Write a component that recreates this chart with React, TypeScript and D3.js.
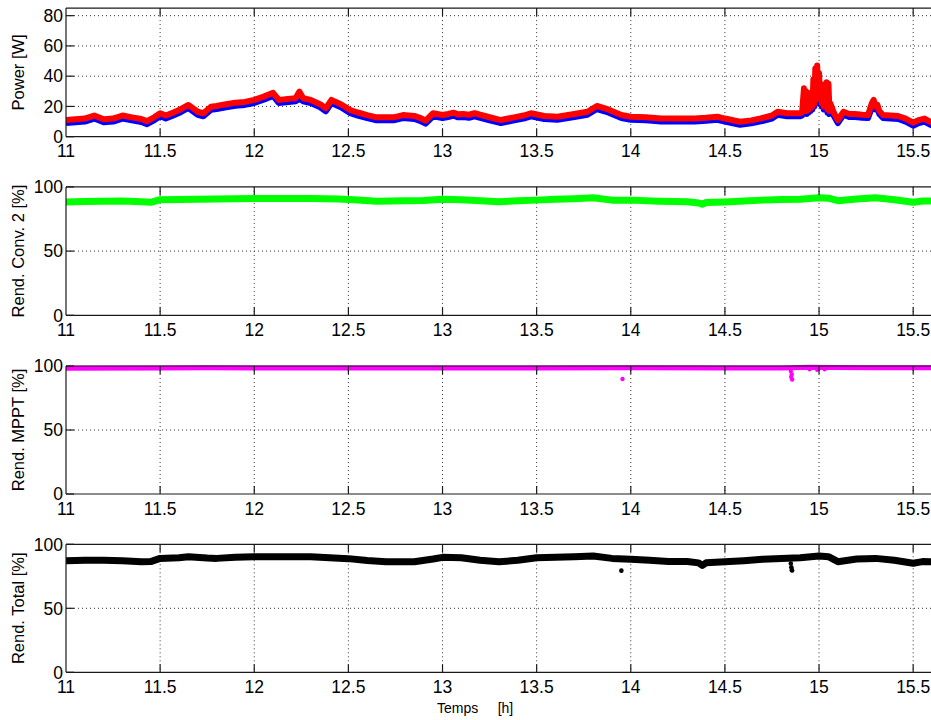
import React from 'react';
import * as d3 from 'd3';

// ---------- data ----------
const xTicks = [11, 11.5, 12, 12.5, 13, 13.5, 14, 14.5, 15, 15.5];
const xTickLabels = ['11', '11.5', '12', '12.5', '13', '13.5', '14', '14.5', '15', '15.5'];
const powerTicks = [0, 20, 40, 60, 80];
const rendTicks = [0, 50, 100];

const powerTime = [
  11.00, 11.05, 11.10, 11.15, 11.20, 11.25, 11.30, 11.35, 11.40, 11.43,
  11.47, 11.50, 11.53, 11.57, 11.60, 11.65, 11.70, 11.73, 11.77, 11.80,
  11.85, 11.90, 11.95, 12.00, 12.05, 12.10, 12.13, 12.18, 12.22, 12.24,
  12.26, 12.30, 12.35, 12.38, 12.41, 12.46, 12.51, 12.55, 12.60, 12.65,
  12.70, 12.74, 12.79, 12.85, 12.88, 12.91, 12.95, 13.00, 13.03, 13.06,
  13.08, 13.11, 13.14, 13.17, 13.24, 13.31, 13.38, 13.43, 13.47, 13.54,
  13.61, 13.70, 13.77, 13.82, 13.88, 13.95, 14.00, 14.08, 14.16, 14.25,
  14.34, 14.40, 14.46, 14.50, 14.58, 14.64, 14.69, 14.75, 14.78, 14.83,
  14.90, 14.91, 14.92, 14.925, 14.93, 14.935, 14.94, 14.945, 14.95, 14.955,
  14.96, 14.965, 14.97, 14.975, 14.98, 14.985, 14.99, 14.995, 15.00, 15.005,
  15.01, 15.015, 15.02, 15.025, 15.03, 15.04, 15.045, 15.05, 15.055, 15.06,
  15.08, 15.10, 15.13, 15.16, 15.19, 15.23, 15.26, 15.28, 15.29, 15.30,
  15.31, 15.32, 15.34, 15.38, 15.42, 15.46, 15.50, 15.53, 15.56, 15.60,
];
const powerIn = [
  11, 11.5, 12, 14, 11.5, 12, 14, 12.8, 11.7, 10.3,
  13, 15.5, 14, 16, 17.6, 21, 16.5, 15.5, 19.8, 20.3,
  21.5, 22.5, 23, 24.3, 26.5, 29, 24.3, 25, 25.5, 29.8,
  25.4, 24.3, 21.5, 18.8, 24.3, 21.5, 17.6, 16, 14.3, 12.8,
  12.8, 12.8, 14.3, 13.7, 12.5, 10.6, 15.5, 14.3, 15, 15.9,
  14.8, 15, 14.5, 15.5, 13.2, 11, 12.8, 14, 15.5, 13.7,
  13.2, 15, 16.5, 20.3, 18, 14.3, 13.2, 12.8, 12.1, 12.1,
  12, 12.5, 13.2, 12, 9.9, 10.8, 12.1, 14, 16.5, 15.5,
  15.5, 16, 32, 18, 30, 17, 29, 18, 27, 19,
  28, 20, 38, 22, 45, 25, 47, 28, 42, 25,
  35, 22, 30, 20, 24, 36, 18, 35, 17, 22,
  15.5, 11, 16.5, 15, 15, 14.5, 14.3, 22, 24.3, 20,
  21, 17, 14.3, 14, 13.7, 12, 9.3, 11, 12, 9.3,
];
const powerOut = [
  9, 9.5, 10, 12, 9.5, 10, 12, 10.8, 9.7, 8.3,
  11, 13.5, 12, 14, 15.6, 19, 14.5, 13.5, 17.8, 18.3,
  19.5, 20.5, 21, 22.3, 24.5, 27, 22.3, 23, 23.5, 25,
  23.4, 22.3, 19.5, 16.8, 22.3, 19.5, 15.6, 14, 12.3, 10.8,
  10.8, 10.8, 12.3, 11.7, 10.5, 8.6, 13.5, 12.3, 13, 13.9,
  12.8, 13, 12.5, 13.5, 11.2, 9, 10.8, 12, 13.5, 11.7,
  11.2, 13, 14.5, 18.3, 16, 12.3, 11.2, 10.8, 10.1, 10.1,
  10, 10.5, 11.2, 10, 7.9, 8.8, 10.1, 12, 14.5, 13.5,
  13.5, 14, 20, 16, 22, 15, 22, 16, 22, 17,
  24, 18, 30, 20, 36, 22, 38, 25, 36, 22,
  28, 20, 24, 18, 20, 28, 16, 26, 15, 19,
  13.5, 9, 14.5, 13, 13, 12.5, 12.3, 19, 21, 18,
  19, 15, 12.3, 12, 11.7, 10, 7.3, 9, 10, 7.3,
];

const conv2Time = [
  11.00, 11.10, 11.20, 11.30, 11.40, 11.45, 11.50, 11.60, 11.70, 11.80,
  11.90, 12.00, 12.15, 12.30, 12.45, 12.55, 12.65, 12.80, 12.90, 13.00,
  13.10, 13.20, 13.30, 13.40, 13.50, 13.60, 13.70, 13.80, 13.90, 14.00,
  14.15, 14.30, 14.36, 14.38, 14.40, 14.50, 14.60, 14.70, 14.80, 14.90,
  15.00, 15.05, 15.10, 15.20, 15.30, 15.40, 15.50, 15.55, 15.60,
];
const conv2Eff = [
  88.3, 88.6, 88.8, 89, 88.5, 88, 90, 90.2, 90.3, 90.5,
  90.8, 91, 91, 91, 90.6, 89.8, 88.9, 89.2, 89.5, 90.4,
  90, 89.3, 88.5, 89.2, 89.7, 90.3, 90.8, 91.5, 89.7, 89.7,
  88.9, 88.5, 87.5, 86.5, 87.8, 88.3, 89, 89.7, 90.2, 90.4,
  91.5, 91.2, 89.3, 90.5, 91.5, 90, 88, 89, 89,
];

const mpptTime = [11.00, 11.50, 11.75, 12.50, 13.00, 13.50, 14.00, 14.50, 14.80, 14.95, 15.05, 15.30, 15.60];
const mpptEff = [98.3, 98.4, 98.6, 98.4, 98.5, 98.5, 98.6, 98.5, 98.5, 99, 98.9, 98.6, 98.6];
const mpptOutlierTime = [13.956, 14.85, 14.852, 14.855, 14.857, 14.95, 14.99, 15.03];
const mpptOutlierEff = [89.8, 96, 91.5, 93.5, 89.5, 97.5, 97, 97.5];

const totalTime = [
  11.00, 11.10, 11.20, 11.30, 11.40, 11.45, 11.50, 11.60, 11.65, 11.75,
  11.80, 11.90, 12.00, 12.15, 12.30, 12.40, 12.50, 12.60, 12.70, 12.85,
  12.95, 13.00, 13.10, 13.20, 13.30, 13.40, 13.50, 13.60, 13.70, 13.80,
  13.90, 14.00, 14.10, 14.20, 14.30, 14.36, 14.38, 14.40, 14.50, 14.60,
  14.70, 14.80, 14.90, 15.00, 15.05, 15.10, 15.20, 15.30, 15.40, 15.50,
  15.55, 15.60,
];
const totalEff = [
  87.2, 87.5, 87.5, 87.2, 86.4, 86.5, 89, 89.5, 90.3, 89.3,
  89, 89.8, 90.3, 90.3, 90.3, 89.5, 88.8, 87.3, 86.4, 86.4,
  88.5, 89.8, 89.5, 87.5, 86.4, 87.5, 89.5, 89.8, 90.3, 90.8,
  89, 88.3, 87.5, 86.6, 86.6, 85.5, 83.5, 85.5, 86.4, 87.2,
  88.3, 89, 89.5, 90.8, 90.3, 86.4, 88.5, 89, 87.5, 85.2,
  86.5, 86.4,
];
const totalOutlierTime = [13.95, 14.85, 14.853, 14.855, 14.857];
const totalOutlierEff = [79.4, 85, 82, 80, 79.5];

// ---------- drawing ----------
const FONT = "'Liberation Sans', Arial, Helvetica, sans-serif";
const LEFT = 66;
const RIGHT = 932;

type Panel = { top: number; bottom: number; max: number; ticks: number[]; label: string };

const panels: Panel[] = [
  { top: 8.1, bottom: 136.7, max: 85, ticks: powerTicks, label: 'Power [W]' },
  { top: 186.9, bottom: 315.3, max: 100, ticks: rendTicks, label: 'Rend. Conv. 2 [%]' },
  { top: 366, bottom: 494, max: 100, ticks: rendTicks, label: 'Rend. MPPT [%]' },
  { top: 544.3, bottom: 672.3, max: 100, ticks: rendTicks, label: 'Rend. Total [%]' },
];

function zip(t: number[], v: number[]): [number, number][] {
  return t.map((tt, i) => [tt, v[i]]);
}

export default function App() {
  const x = d3.scaleLinear().domain([11, 15.6]).range([LEFT, RIGHT]);

  const renderPanel = (p: Panel, idx: number) => {
    const y = d3.scaleLinear().domain([0, p.max]).range([p.bottom, p.top]);
    const line = d3
      .line<[number, number]>()
      .x((d) => x(d[0]))
      .y((d) => y(d[1]));
    const clipId = `clip${idx}`;
    const midY = (p.top + p.bottom) / 2;

    let series: React.ReactNode = null;
    if (idx === 0) {
      series = (
        <g>
          <path d={line(zip(powerTime, powerOut)) || ''} fill="none" stroke="#0000ff" strokeWidth={6} strokeLinejoin="round" />
          <path d={line(zip(powerTime, powerIn)) || ''} fill="none" stroke="#ff0000" strokeWidth={6} strokeLinejoin="round" />
        </g>
      );
    } else if (idx === 1) {
      series = (
        <path d={line(zip(conv2Time, conv2Eff)) || ''} fill="none" stroke="#00ff00" strokeWidth={7} strokeLinejoin="round" />
      );
    } else if (idx === 2) {
      series = (
        <g>
          <path d={line(zip(mpptTime, mpptEff)) || ''} fill="none" stroke="#ff00ff" strokeWidth={5} strokeLinejoin="round" />
          {mpptOutlierTime.map((t, i) => (
            <circle key={i} cx={x(t)} cy={y(mpptOutlierEff[i])} r={2.2} fill="#ff00ff" />
          ))}
        </g>
      );
    } else {
      series = (
        <g>
          <path d={line(zip(totalTime, totalEff)) || ''} fill="none" stroke="#000000" strokeWidth={7} strokeLinejoin="round" />
          {totalOutlierTime.map((t, i) => (
            <circle key={i} cx={x(t)} cy={y(totalOutlierEff[i])} r={2.3} fill="#000000" />
          ))}
        </g>
      );
    }

    return (
      <g key={idx}>
        <defs>
          <clipPath id={clipId}>
            <rect x={LEFT} y={p.top - 6} width={RIGHT - LEFT} height={p.bottom - p.top + 6} />
          </clipPath>
        </defs>
        {/* grid */}
        <g stroke="#333" strokeWidth={1} strokeDasharray="1,3">
          {xTicks.filter((t) => t !== 11).map((t) => (
            <line key={`gx${t}`} x1={x(t)} x2={x(t)} y1={p.top} y2={p.bottom} />
          ))}
          {p.ticks.filter((v) => v !== 0 && y(v) > p.top + 1).map((v) => (
            <line key={`gy${v}`} x1={LEFT} x2={RIGHT} y1={y(v)} y2={y(v)} />
          ))}
        </g>
        {/* data */}
        <g clipPath={`url(#${clipId})`}>{series}</g>
        {/* axes box */}
        <g stroke="#1a1a1a" strokeWidth={1.2} fill="none">
          <line x1={LEFT} x2={RIGHT} y1={p.bottom} y2={p.bottom} />
          <line x1={LEFT} x2={RIGHT} y1={p.top} y2={p.top} />
          <line x1={LEFT} x2={LEFT} y1={p.top} y2={p.bottom} />
          {xTicks.filter((t) => t !== 11).map((t) => (
            <g key={`tx${t}`}>
              <line x1={x(t)} x2={x(t)} y1={p.bottom} y2={p.bottom - 8} />
              <line x1={x(t)} x2={x(t)} y1={p.top} y2={p.top + 8} />
            </g>
          ))}
          {p.ticks.map((v) => (
            <line key={`ty${v}`} x1={LEFT} x2={LEFT + 8} y1={y(v)} y2={y(v)} />
          ))}
        </g>
        {/* tick labels */}
        <g fontFamily={FONT} fontSize={17.5} fill="#000">
          {xTicks.map((t, i) => (
            <text key={`lx${t}`} x={x(t)} y={p.bottom + 20.5} textAnchor="middle">
              {xTickLabels[i]}
            </text>
          ))}
          {p.ticks.map((v) => (
            <text key={`ly${v}`} x={63} y={y(v) + 6.3} textAnchor="end">
              {String(v)}
            </text>
          ))}
        </g>
        <text
          transform={`translate(23.5, ${midY}) rotate(-90)`}
          textAnchor="middle"
          fontFamily={FONT}
          fontSize={16.5}
          fill="#000"
        >
          {p.label}
        </text>
      </g>
    );
  };

  return (
    <svg
      width={931}
      height={720}
      style={{ position: 'absolute', left: 0, top: 0, background: '#fff' }}
    >
      <rect x={0} y={0} width={931} height={720} fill="#fff" />
      {panels.map((p, i) => renderPanel(p, i))}
      <text x={437} y={713} fontFamily={FONT} fontSize={14} fill="#000" style={{ whiteSpace: 'pre' }}>
        {'Temps     [h]'}
      </text>
    </svg>
  );
}
